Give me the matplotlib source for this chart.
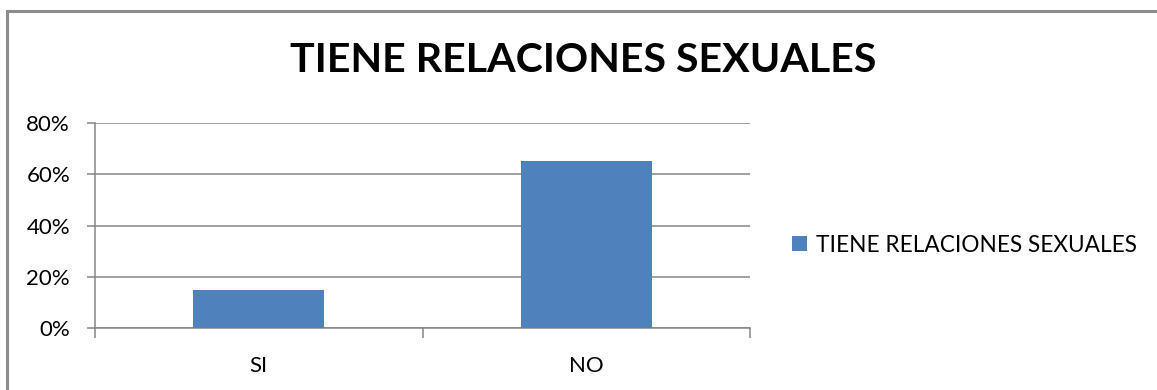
import matplotlib
matplotlib.use("Agg")
import matplotlib.pyplot as plt
from matplotlib.patches import Rectangle
from matplotlib.ticker import PercentFormatter, FixedLocator

# -- Data ----------------------------------------------------------------------
categories = ["SI", "NO"]
values = [15, 65]          # percent
series_name = "TIENE RELACIONES SEXUALES"
title = "TIENE RELACIONES SEXUALES"
y_ticks = [0, 20, 40, 60, 80]

BAR_COLOR = "#4f81bd"
GRID_COLOR = "#868686"

plt.rcParams["font.family"] = ["Lato", "DejaVu Sans"]

W, H = 1157, 390
fig = plt.figure(figsize=(W / 100, H / 100), dpi=100)
fig.patch.set_facecolor("white")

# outer chart frame (Excel style), runs off right/bottom edge
fig.add_artist(Rectangle((7 / W, -0.1), 2, (H - 11) / H + 0.1,
                         transform=fig.transFigure, fill=False,
                         edgecolor="#8c8c8c", linewidth=2.2))

ax = fig.add_axes([95 / W, 1 - 328 / H, (750 - 95) / W, (328 - 123) / H])

x = [i + 0.5 for i in range(len(categories))]
ax.bar(x, values, width=0.4, color=BAR_COLOR, label=series_name, zorder=3)

ax.set_xlim(0, len(categories))
ax.set_ylim(0, 80)
ax.set_yticks(y_ticks)
ax.yaxis.set_major_formatter(PercentFormatter(decimals=0))
ax.grid(axis="y", color=GRID_COLOR, linewidth=1.1, zorder=0)

ax.set_xticks(x)
ax.set_xticklabels(categories)
ax.xaxis.set_minor_locator(FixedLocator(range(len(categories) + 1)))
ax.tick_params(axis="x", which="major", length=0, pad=20, labelsize=16)
ax.tick_params(axis="x", which="minor", length=7, width=1.1,
               color=GRID_COLOR, direction="out")
ax.tick_params(axis="y", length=6, width=1.1, color=GRID_COLOR,
               pad=12, labelsize=16)

for side in ["top", "right"]:
    ax.spines[side].set_visible(False)
ax.spines["left"].set_color(GRID_COLOR)
ax.spines["bottom"].set_color(GRID_COLOR)
ax.spines["left"].set_linewidth(1.1)
ax.spines["bottom"].set_linewidth(1.1)

fig.text(583 / W, 1 - 61 / H, title, ha="center", va="center",
         fontsize=29.6, fontweight="bold")

fig.legend(loc="center left", bbox_to_anchor=(792 / W, 1 - 245 / H),
           frameon=False, fontsize=16.3, handlelength=0.65, handleheight=0.65,
           handletextpad=0.4, borderpad=0, borderaxespad=0)

fig.savefig("out.png", dpi=100)
